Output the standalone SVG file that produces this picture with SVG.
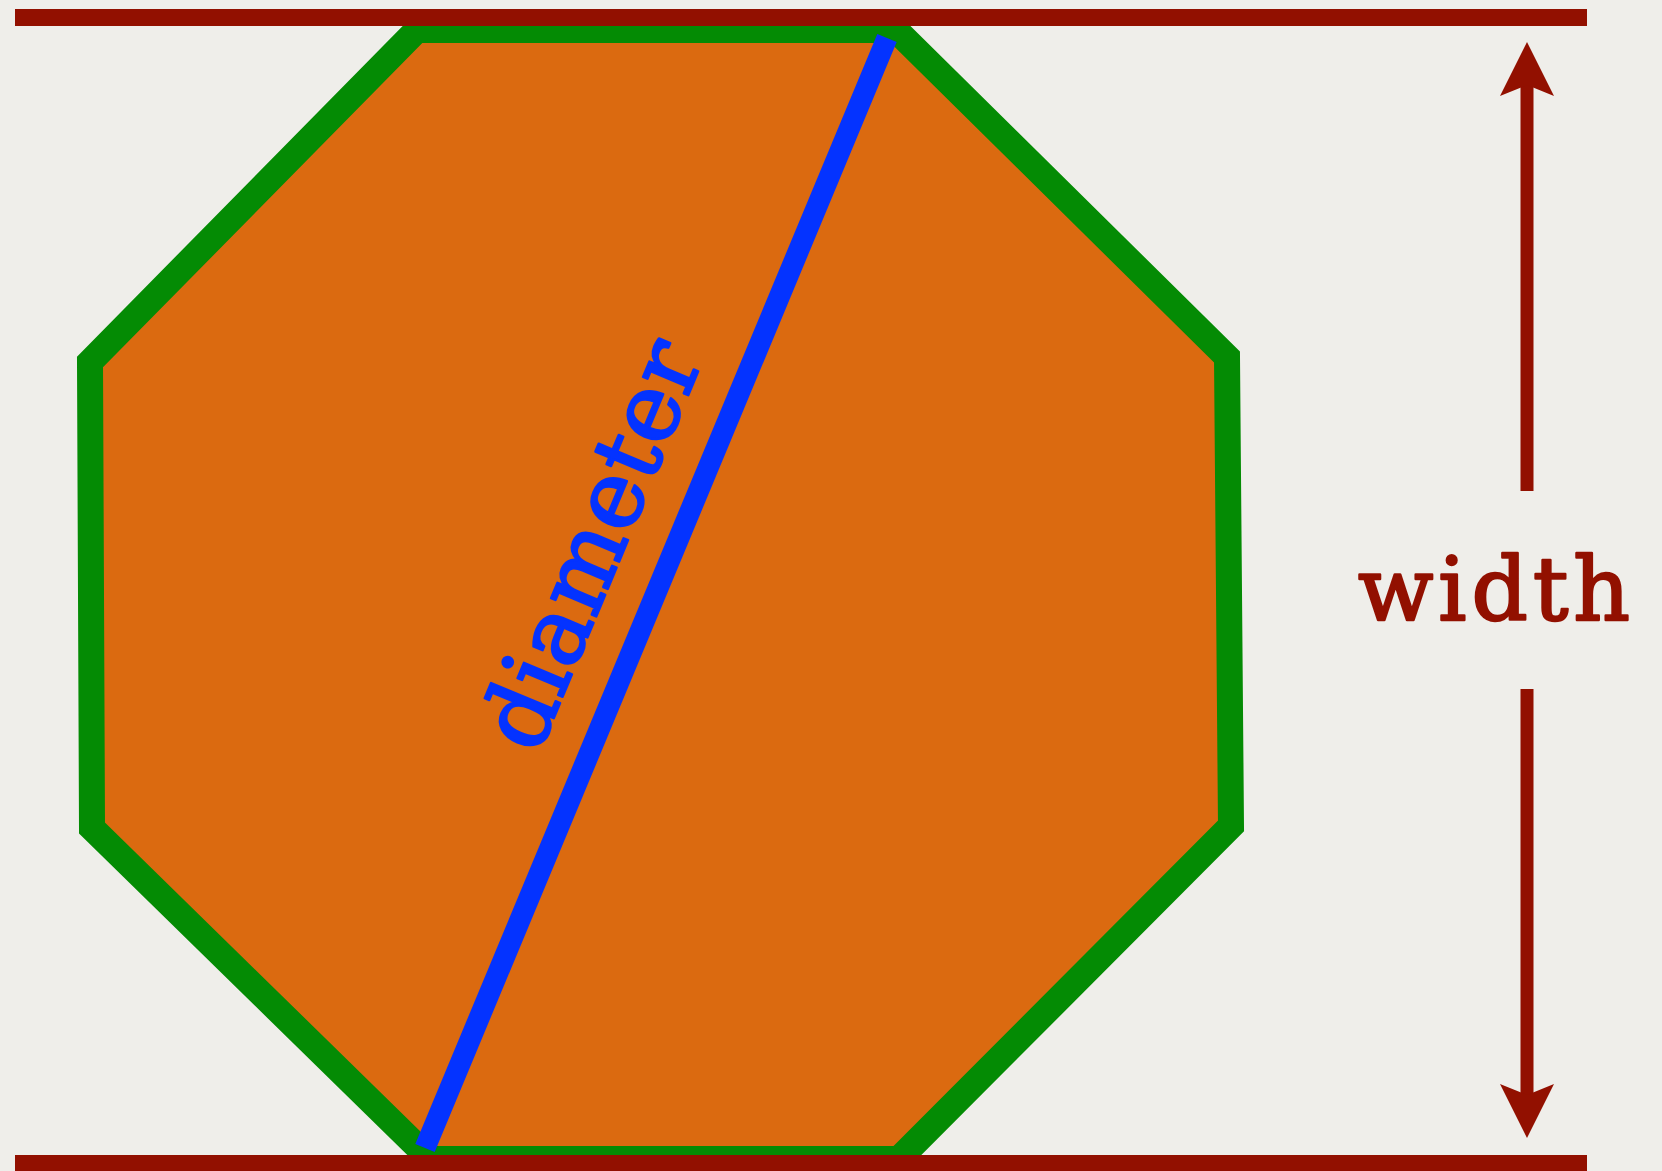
<svg xmlns="http://www.w3.org/2000/svg" width="1662" height="1171" viewBox="0 0 1662 1171">
  <defs>
    <marker id="head" markerUnits="userSpaceOnUse" markerWidth="54" markerHeight="54" viewBox="0 0 54 54" refX="11" refY="27" orient="auto">
      <path d="M0,0 L54,27 L0,54 L11,27 Z" fill="#921000"/>
    </marker>
  </defs>
  <style>
    .bar { fill: #921000; }
    .shaft { stroke: #921000; stroke-width: 13; fill: none; marker-end: url(#head); }
    .lbl { font-family: "DejaVu Serif", "Liberation Serif", serif; stroke-width: 2.4; stroke-linejoin: round; }
  </style>
  <rect x="0" y="0" width="1662" height="1171" fill="#efeeea"/>
  <g id="octagon">
    <polygon points="417,30 896,30 1227,357 1231,826 899,1159 430,1159 92,828 90,362" fill="#db6a10" stroke="#048b04" stroke-width="26" stroke-linejoin="miter"/>
  </g>
  <g id="diameter">
    <line x1="887" y1="38" x2="425" y2="1148" stroke="#0433ff" stroke-width="21"/>
    <text class="lbl" transform="translate(538,756) rotate(-67.4)" x="0" y="0" font-size="94" fill="#0433ff" stroke="#0433ff" textLength="432" lengthAdjust="spacing">diameter</text>
  </g>
  <g id="bars">
    <rect class="bar" x="15" y="9" width="1572" height="17"/>
    <rect class="bar" x="15" y="1155" width="1572" height="17"/>
  </g>
  <g id="width-label">
    <text class="lbl" x="1358" y="620" font-size="88" fill="#921000" stroke="#921000" textLength="272" lengthAdjust="spacing">width</text>
  </g>
  <g id="connectors">
    <line class="shaft" x1="1527" y1="491" x2="1527" y2="85"/>
    <line class="shaft" x1="1527" y1="689" x2="1527" y2="1095"/>
  </g>
</svg>
